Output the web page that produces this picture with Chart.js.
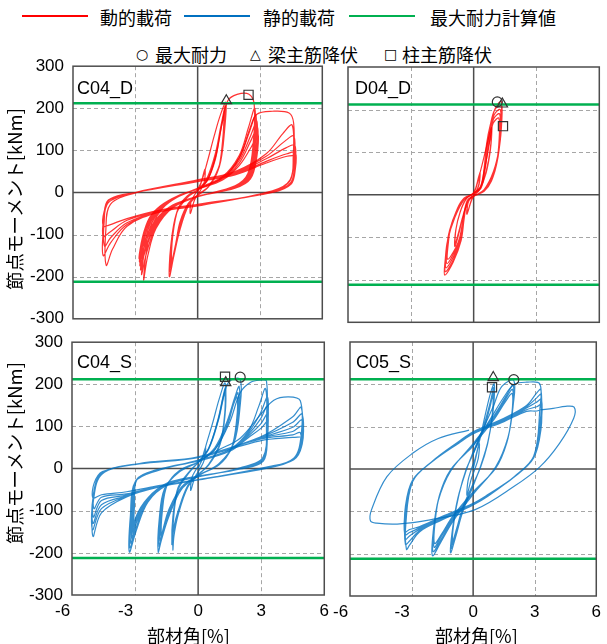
<!DOCTYPE html>
<html>
<head>
<meta charset="utf-8">
<script src="https://cdn.jsdelivr.net/npm/chart.js@4.4.0/dist/chart.umd.min.js"></script>
<style>
  body { margin: 0; background: #fff; }
  #page { position: relative; width: 607px; height: 644px; overflow: hidden; background: #fff; }
  canvas { position: absolute; }
  .jp { position: absolute; font-family: "Noto Sans CJK JP", sans-serif; font-size: 18px; line-height: 20px; color: #000; white-space: nowrap; }
  .sym { position: absolute; font-family: "DejaVu Sans", sans-serif; font-size: 14px; line-height: 20px; color: #000; }
  .key { position: absolute; height: 0; border-top: 2px solid; }
  .tag { position: absolute; font-family: "Liberation Sans", Arial, sans-serif; font-size: 18px; line-height: 18px; color: #000; }
  .ytitle { position: absolute; width: 220px; height: 22px; line-height: 22px; text-align: center; transform: rotate(-90deg); font-family: "Noto Sans CJK JP", sans-serif; font-size: 18.5px; color: #000; white-space: nowrap; }
</style>
</head>
<body>
<div id="page">
  <div class="key" style="left:22px;top:15px;width:66px;border-color:#ff0000"></div>
  <div class="jp" style="left:100px;top:7px">動的載荷</div>
  <div class="key" style="left:184px;top:15px;width:66px;border-color:#0070c0"></div>
  <div class="jp" style="left:263px;top:7px">静的載荷</div>
  <div class="key" style="left:349px;top:15px;width:66px;border-color:#00b050"></div>
  <div class="jp" style="left:430px;top:7px">最大耐力計算値</div>

  <div class="sym" style="left:136px;top:44px">○</div>
  <div class="jp" style="left:155px;top:44px">最大耐力</div>
  <div class="sym" style="left:250px;top:44px">△</div>
  <div class="jp" style="left:268px;top:44px">梁主筋降伏</div>
  <div class="sym" style="left:384px;top:44px">□</div>
  <div class="jp" style="left:402px;top:44px">柱主筋降伏</div>

  <canvas id="c1" width="330" height="291" style="left:0;top:47px"></canvas>
  <canvas id="c2" width="267" height="280" style="left:340px;top:50px"></canvas>
  <canvas id="c3" width="335" height="321" style="left:0;top:323px"></canvas>
  <canvas id="c4" width="280" height="314" style="left:327px;top:330px"></canvas>

  <div class="tag" style="left:77px;top:79px">C04_D</div>
  <div class="tag" style="left:355px;top:79px">D04_D</div>
  <div class="tag" style="left:77px;top:353px">C04_S</div>
  <div class="tag" style="left:356px;top:353px">C05_S</div>

  <div class="ytitle" style="left:-96px;top:188px">節点モーメント[kNm]</div>
  <div class="ytitle" style="left:-96px;top:442px">節点モーメント[kNm]</div>
  <div class="jp" style="left:147px;top:625px">部材角[%]</div>
  <div class="jp" style="left:435px;top:625px">部材角[%]</div>
</div>

<script>
// axes
const xTicks = [-6, -3, 0, 3, 6];
const yTicks = [-300, -200, -100, 0, 100, 200, 300];
const xDashed = [-3, 3];
const yDashed = [-200, -100, 100, 200];
const calcMax = [212, -212];

// C04_D : dynamic loading (x = drift %, y = moment kNm, pairs)
const c04dA = [
  0,0, 0.15,20, 0.35,55, 0.32,25, 0.1,2, -0.15,-18, -0.35,-50, -0.32,-22, -0.1,-2,
  0.2,28, 0.45,70, 0.8,135, 1.1,185, 1.36,214,
  1.3,150, 1.08,70, 0.55,16, 0,-6, -0.45,-32, -0.85,-88, -1.15,-152, -1.36,-200,
  -1.3,-130, -1.02,-50, -0.5,-12, 0,6, 0.45,34, 0.85,92, 1.12,158, 1.33,205,
  1.28,142, 1.05,62, 0.52,14, 0,-7, -0.45,-30, -0.85,-82, -1.12,-142, -1.33,-188,
  -1.27,-122, -1.0,-46, -0.5,-11, 0,6, 0.45,31, 0.85,86, 1.1,150, 1.3,195,
  1.25,135, 1.02,58, 0.5,13, 0,-7, -0.45,-28, -0.85,-78, -1.1,-135, -1.3,-178,
  -1.25,-116, -0.98,-43, -0.5,-10, 0,6, 0.45,29, 0.85,82, 1.08,142, 1.27,186,
  1.22,128, 1.0,55, 0.5,12, 0,-7, -0.45,-27, -0.85,-74, -1.08,-128, -1.28,-170,
  -1.22,-110, -0.96,-40, -0.5,-9, 0,5, 0.45,27, 0.85,78, 1.06,136, 1.25,178,
  1.2,122, 0.98,52, 0.5,12, 0,-6, -0.45,-26, -0.85,-70, -1.05,-120, -1.25,-162,
  -1.2,-104, -0.94,-38, -0.5,-8, 0,5
];
const c04dB = [
  0,5, 0.5,32, 0.9,92, 1.2,170, 1.45,218, 1.9,233, 2.45,234, 2.72,210,
  2.68,120, 2.42,45, 1.8,16, 0,-10, -1.2,-36, -2.0,-85, -2.4,-150, -2.6,-208,
  -2.45,-135, -2.15,-75, -1.7,-38, -1.0,-12, 0,10, 1.2,38, 2.0,88, 2.45,155, 2.75,200,
  2.72,115, 2.45,42, 1.8,14, 0,-10, -1.2,-34, -2.0,-80, -2.45,-142, -2.7,-195,
  -2.52,-128, -2.2,-72, -1.72,-36, -1.0,-11, 0,10, 1.2,36, 2.0,82, 2.5,145, 2.8,185,
  2.76,108, 2.48,40, 1.8,13, 0,-10, -1.2,-33, -2.0,-76, -2.5,-135, -2.75,-184,
  -2.56,-122, -2.24,-69, -1.74,-35, -1.0,-11, 0,9, 1.2,34, 2.0,76, 2.55,135, 2.85,170,
  2.8,100, 2.5,37, 1.8,12, 0,-9, -1.2,-32, -2.0,-72, -2.5,-128, -2.78,-174,
  -2.6,-116, -2.27,-66, -1.76,-34, -1.0,-10, 0,9, 1.2,32, 2.0,70, 2.55,122, 2.88,155,
  2.83,92, 2.52,34, 1.8,11, 0,-9, -1.2,-31, -2.0,-68, -2.52,-120, -2.8,-165,
  -2.63,-110, -2.3,-63, -1.78,-33, -1.0,-10, 0,8, 1.2,30, 2.0,64, 2.6,110, 2.9,140,
  2.85,85, 2.54,32, 1.8,10, 0,-9, -1.2,-30, -2.0,-64, -2.55,-114, -2.82,-157,
  -2.65,-105, -2.32,-60, -1.8,-32, -1.0,-9, 0,8
];
const c04dC = [
  0,8, 1.2,35, 2.0,82, 2.5,150, 2.85,186, 3.6,193, 4.4,189, 4.62,165,
  4.62,90, 4.45,30, 3.6,4, 0,-32, -1.8,-46, -3.4,-80, -4.1,-135, -4.4,-173,
  -4.42,-90, -4.2,-28, -3.0,-1, 0,30, 1.8,50, 3.3,92, 4.1,140, 4.55,160,
  4.6,85, 4.45,28, 3.6,3, 0,-31, -1.8,-45, -3.4,-76, -4.2,-120, -4.55,-150,
  -4.52,-80, -4.3,-24, -3.0,0, 0,29, 1.8,48, 3.3,86, 4.2,122, 4.63,134,
  4.65,75, 4.5,25, 3.6,2, 0,-30, -1.8,-44, -3.4,-72, -4.2,-108, -4.48,-128,
  -4.5,-70, -4.3,-20, -3.0,0, 0,28, 1.8,46, 3.3,80, 4.25,106, 4.68,112,
  4.68,65, 4.5,22, 3.6,1, 0,-29, -1.8,-43, -3.4,-66, -4.25,-95, -4.55,-105,
  -4.52,-60, -4.3,-18, -3.0,0, 0,27, 1.8,44, 3.3,74, 4.3,92, 4.7,95,
  4.7,55, 4.5,20, 3.6,0, 0,-28, -1.8,-42, -3.4,-62, -4.3,-78, -4.55,-80,
  -4.5,-45, -4.2,-15, -3.0,0, 0,26, 1.8,42, 3.3,70, 4.3,86, 4.7,88
];
const c04dBeam = [1.38, 218];
const c04dCol = [2.45, 232];

// D04_D : dynamic loading
const d04dA = [
  0,0, 0.1,15, 0.28,48, 0.25,25, 0.08,3, -0.1,-12, -0.3,-42, -0.27,-20, -0.1,-3,
  0.1,14, 0.3,52, 0.26,24, 0.08,2, -0.1,-13, -0.32,-46, -0.28,-20, -0.08,-2,
  0.12,18, 0.35,60, 0.6,110, 0.85,158,
  0.8,110, 0.6,55, 0.3,14, 0,-3, -0.25,-15, -0.5,-50, -0.7,-90, -0.9,-122,
  -0.86,-85, -0.65,-42, -0.35,-10, 0,3, 0.3,16, 0.5,55, 0.68,100, 0.86,150,
  0.8,105, 0.6,52, 0.3,13, 0,-3, -0.25,-14, -0.5,-48, -0.7,-85, -0.88,-115,
  -0.84,-80, -0.64,-40, -0.35,-9, 0,3
];
const d04dB = [
  0,3, 0.35,20, 0.5,62, 0.62,120, 0.8,165, 1.05,205, 1.32,219,
  1.34,170, 1.22,110, 0.95,55, 0.5,12, 0,-4, -0.3,-15, -0.45,-55, -0.6,-108, -0.98,-159, -1.38,-189,
  -1.35,-149, -1.25,-109, -0.9,-54, -0.45,-12, 0,3, 0.35,18, 0.5,60, 0.62,118, 0.78,160, 1.0,199, 1.3,210,
  1.32,160, 1.2,100, 0.93,45, 0.5,11, 0,-4, -0.3,-15, -0.46,-55, -0.62,-108, -0.95,-151, -1.35,-181,
  -1.32,-141, -1.22,-101, -0.87,-46, -0.45,-11, 0,3, 0.35,17, 0.51,58, 0.64,115, 0.8,156, 0.98,188, 1.27,200,
  1.29,150, 1.17,90, 0.9,40, 0.5,10, 0,-4, -0.3,-14, -0.47,-54, -0.63,-105, -0.92,-142, -1.32,-172,
  -1.29,-132, -1.19,-92, -0.84,-40, -0.45,-10, 0,3, 0.35,16, 0.52,56, 0.66,112, 0.82,150, 0.95,178, 1.24,190,
  1.26,140, 1.14,82, 0.88,36, 0.5,9, 0,-4, -0.3,-14, -0.48,-52, -0.64,-102, -0.88,-132, -1.28,-162,
  -1.25,-122, -1.15,-84, -0.8,-36, -0.45,-9, 0,3, 0.35,15, 0.53,54, 0.68,108, 0.84,145, 0.93,168, 1.2,180,
  1.22,132, 1.1,76, 0.85,32, 0.5,8, 0,-3, -0.3,-13, -0.48,-50, -0.65,-98, -0.85,-124, -1.24,-152,
  -1.21,-114, -1.1,-78, -0.78,-33, -0.45,-8, 0,2
];
const d04dPeak = [1.13, 218];
const d04dBeam = [1.37, 213];
const d04dCol = [1.4, 161];

// C04_S : static loading
const c04sA = [
  0,0, 0.15,18, 0.35,50, 0.3,22, 0.1,0, -0.15,-20, -0.35,-52, -0.3,-22, -0.1,-2, 0.15,16, 0.4,60,
  0.7,110, 1.0,165, 1.28,203,
  1.27,135, 1.05,62, 0.5,10, 0,-15, -0.5,-45, -0.95,-110, -1.15,-160, -1.2,-193,
  -1.17,-120, -0.95,-50, -0.4,-8, 0,15, 0.5,48, 0.95,118, 1.18,170, 1.3,192,
  1.28,128, 1.05,58, 0.5,9, 0,-15, -0.5,-43, -0.95,-105, -1.18,-150, -1.25,-180,
  -1.2,-114, -0.96,-47, -0.4,-7, 0,14, 0.5,46, 0.95,112, 1.17,160, 1.27,182,
  1.25,122, 1.03,55, 0.5,8, 0,-14, -0.5,-41, -0.95,-100, -1.16,-140, -1.22,-168,
  -1.18,-108, -0.95,-44, -0.4,-6, 0,14
];
const c04sB = [
  0,14, 0.5,48, 0.95,115, 1.25,180, 1.5,208, 2.0,212,
  1.98,140, 1.7,60, 1.0,12, 0,-18, -0.8,-50, -1.4,-115, -1.75,-170, -1.9,-198,
  -1.85,-120, -1.6,-48, -0.9,-8, 0,16, 0.8,50, 1.4,115, 1.75,170, 1.95,195,
  1.93,130, 1.66,56, 1.0,11, 0,-17, -0.8,-48, -1.4,-110, -1.72,-160, -1.85,-185,
  -1.8,-114, -1.56,-45, -0.9,-7, 0,15, 0.8,48, 1.4,110, 1.72,160, 1.9,180,
  1.88,122, 1.62,52, 1.0,10, 0,-16, -0.8,-46, -1.4,-104, -1.68,-150, -1.8,-172,
  -1.75,-108, -1.52,-42, -0.9,-6, 0,15, 0.8,46, 1.4,104, 1.68,152, 1.85,170,
  1.83,115, 1.58,48, 1.0,9, 0,-16, -0.8,-44, -1.4,-98, -1.65,-140, -1.75,-160,
  -1.7,-100, -1.48,-40, -0.9,-5, 0,15
];
const c04sC = [
  0,15, 0.8,45, 1.5,110, 2.0,180, 2.5,205, 3.0,210, 3.25,208,
  3.27,120, 3.1,28, 2.0,2, 0,-20, -1.5,-40, -2.4,-80, -2.95,-148, -3.27,-198,
  -3.22,-110, -3.0,-32, -2.0,-6, 0,20, 1.5,45, 2.4,90, 2.9,150, 3.2,190,
  3.25,110, 3.08,26, 2.0,1, 0,-20, -1.5,-39, -2.4,-78, -2.95,-140, -3.24,-188,
  -3.2,-105, -2.98,-30, -2.0,-5, 0,19, 1.5,44, 2.4,86, 2.95,130, 3.3,170,
  3.3,100, 3.1,24, 2.0,0, 0,-19, -1.5,-38, -2.4,-76, -2.97,-133, -3.2,-178,
  -3.17,-100, -2.96,-28, -2.0,-5, 0,19, 1.5,43, 2.4,82, 2.97,118, 3.3,150,
  3.3,92, 3.1,22, 2.0,0, 0,-19, -1.5,-37, -2.4,-74, -2.98,-126, -3.15,-168,
  -3.12,-96, -2.94,-27, -2.0,-4, 0,18, 1.5,42, 2.4,78, 2.98,106, 3.3,130,
  3.3,84, 3.1,20, 2.0,-1, 0,-18, -1.5,-36, -2.4,-72, -2.98,-120, -3.1,-158,
  -3.08,-92, -2.92,-26, -2.0,-4, 0,18, 1.5,41, 2.4,74, 3.0,96, 3.3,112,
  3.3,76, 3.1,18, 2.0,-1, 0,-18, -1.5,-35, -2.4,-70, -2.96,-115, -3.05,-150,
  -3.03,-90, -2.9,-25, -2.0,-3, 0,18
];
const c04sD = [
  0,18, 1.0,45, 2.0,72, 3.0,130, 3.6,162, 4.3,170, 4.86,161,
  4.9,80, 4.55,25, 3.3,4, 0,-27, -1.8,-43, -3.4,-67, -4.6,-105, -5.0,-161,
  -4.97,-72, -4.55,-12, -2.8,12, 0,28, 2.95,75, 4.5,123, 4.9,145,
  4.92,72, 4.55,24, 3.3,3, 0,-27, -1.8,-43, -3.4,-66, -4.6,-95, -5.02,-145,
  -4.99,-65, -4.55,-11, -2.8,12, 0,28, 2.95,74, 4.5,110, 4.94,129,
  4.95,65, 4.55,23, 3.3,2, 0,-27, -1.8,-42, -3.4,-65, -4.6,-86, -5.0,-130,
  -4.97,-58, -4.55,-10, -2.8,12, 0,27, 2.95,73, 4.5,98, 4.94,115,
  4.95,58, 4.55,22, 3.3,2, 0,-26, -1.8,-42, -3.4,-63, -4.6,-76, -4.98,-115,
  -4.95,-52, -4.55,-9, -2.8,12, 0,27, 2.95,72, 4.5,88, 4.92,100,
  4.92,52, 4.55,21, 3.3,1, 0,-26, -1.8,-41, -3.4,-60, -4.6,-68, -4.95,-95,
  -4.93,-45, -4.55,-8, -2.8,12, 0,27, 2.95,70, 4.5,80, 4.86,85,
  4.87,45, 4.5,20, 3.3,1, 0,-26, -1.8,-40, -3.4,-55, -4.6,-62, -5.0,-70,
  -4.95,-35, -4.55,-7, -2.8,11, 0,26, 2.95,66, 4.5,74, 4.85,75
];
const c04sPeak = [2.0, 217];
const c04sBeam = [1.31, 204];
const c04sCol = [1.28, 218];

// C05_S : static loading
const c05sA = [
  0,0, 0.1,20, 0.3,60, 0.25,25, 0.05,-5, -0.1,-25, -0.3,-62, -0.25,-28, -0.05,5, 0.1,25, 0.35,75,
  0.6,130, 0.85,180, 1.03,201,
  0.98,140, 0.75,70, 0.35,5, 0,-40, -0.5,-100, -0.85,-160, -1.1,-198,
  -1.0,-140, -0.75,-70, -0.35,-5, 0,40, 0.5,100, 0.85,160, 1.0,192,
  0.96,134, 0.73,66, 0.35,4, 0,-38, -0.5,-96, -0.84,-152, -1.05,-188,
  -0.96,-132, -0.72,-66, -0.35,-4, 0,38, 0.5,96, 0.84,152, 0.98,182,
  0.94,128, 0.71,62, 0.35,3, 0,-36, -0.5,-92, -0.82,-146, -1.02,-178,
  -0.94,-126, -0.7,-62, -0.35,-3, 0,36, 0.5,92, 0.82,146, 0.96,175,
  0.92,122, 0.7,58, 0.35,2, 0,-35, -0.5,-90, -0.8,-140, -1.0,-170,
  -0.92,-120, -0.68,-58, -0.35,-2, 0,35
];
const c05sB = [
  0,35, 0.5,95, 1.0,150, 1.4,195, 1.98,209,
  1.95,150, 1.7,75, 1.1,5, 0,-60, -1.0,-125, -1.6,-175, -1.98,-205,
  -1.95,-150, -1.7,-75, -1.1,-5, 0,60, 1.0,125, 1.6,172, 1.95,198,
  1.92,142, 1.68,70, 1.1,4, 0,-58, -1.0,-120, -1.58,-168, -1.95,-195,
  -1.92,-142, -1.68,-70, -1.1,-4, 0,58, 1.0,120, 1.58,165, 1.92,188,
  1.9,135, 1.66,66, 1.1,3, 0,-56, -1.0,-116, -1.56,-160, -1.9,-185,
  -1.88,-135, -1.66,-66, -1.1,-3, 0,56, 1.0,116, 1.56,158, 1.9,178,
  1.88,128, 1.64,62, 1.1,2, 0,-54, -1.0,-112, -1.54,-154, -1.88,-176,
  -1.86,-128, -1.64,-62, -1.1,-2, 0,54
];
const c05sC = [
  0,54, 0.8,115, 1.5,170, 2.0,200, 2.6,205, 3.25,201,
  3.25,141, 2.95,30, 2.0,-18, 0.7,-65, 0,-85, -1.5,-120, -2.6,-148, -3.1,-180, -3.25,-190,
  -3.28,-130, -2.95,-30, -2.0,18, -0.7,65, 0,88, 1.5,120, 2.6,150, 3.1,180, 3.3,188,
  3.3,128, 2.95,29, 2.0,-18, 0.7,-64, 0,-84, -1.5,-118, -2.6,-145, -3.1,-170, -3.3,-178,
  -3.3,-118, -2.95,-29, -2.0,18, -0.7,64, 0,86, 1.5,118, 2.6,147, 3.1,168, 3.3,176,
  3.3,116, 2.95,28, 2.0,-19, 0.7,-63, 0,-83, -1.5,-116, -2.6,-142, -3.1,-158, -3.3,-166,
  -3.3,-106, -2.95,-28, -2.0,18, -0.7,63, 0,85, 1.5,116, 2.6,144, 3.1,158, 3.33,165,
  3.3,105, 2.95,27, 2.0,-19, 0.7,-62, 0,-82, -1.5,-114, -2.6,-139, -3.1,-150, -3.33,-156,
  -3.3,-96, -2.95,-27, -2.0,17, -0.7,62, 0,84, 1.5,114, 2.6,140, 3.1,147, 3.3,152,
  3.3,92, 2.95,26, 2.0,-19, 0.7,-61, 0,-81, -1.5,-112, -2.6,-136, -3.1,-143, -3.3,-148,
  -3.3,-88, -2.95,-26, -2.0,17, -0.7,61, 0,83, 1.5,112, 2.6,136, 3.1,137, 3.3,140
];
const c05sD = [
  3.3,140, 3.9,143, 4.5,148, 4.92,146,
  4.9,120, 4.2,60, 3.25,5, 2.0,-41, 0.1,-96, -2.1,-120, -3.7,-130, -4.7,-128, -5.0,-123,
  -4.95,-96, -4.2,-18, -2.95,37, -1.7,72, -0.2,92
];
const c05sPeak = [1.98, 211];
const c05sBeam = [0.98, 216];
const c05sCol = [0.92, 193];

const RED = 'rgba(255,0,0,0.8)';
const BLUE = 'rgba(0,112,192,0.8)';
const GREEN = '#00b050';
const MARK = '#333333';

const toXY = flat => {
  const pts = [];
  for (let i = 0; i < flat.length; i += 2) pts.push({ x: flat[i], y: flat[i + 1] });
  return pts;
};

// dashed grid, zero lines and the frame, placed with the chart's own scales
const frame = {
  id: 'frame',
  beforeDatasetsDraw(chart) {
    const { ctx, chartArea: a, scales: { x, y } } = chart;
    ctx.save();
    ctx.lineWidth = 1;
    ctx.strokeStyle = '#a6a6a6';
    ctx.setLineDash([4, 3]);
    ctx.beginPath();
    for (const v of yDashed) {
      const py = Math.round(y.getPixelForValue(v)) + 0.5;
      ctx.moveTo(a.left, py); ctx.lineTo(a.right, py);
    }
    for (const v of xDashed) {
      const px = Math.round(x.getPixelForValue(v)) + 0.5;
      ctx.moveTo(px, a.top); ctx.lineTo(px, a.bottom);
    }
    ctx.stroke();
    ctx.setLineDash([]);
    ctx.strokeStyle = '#4d4d4d';
    ctx.lineWidth = 1.5;
    ctx.beginPath();
    const y0 = y.getPixelForValue(0), x0 = x.getPixelForValue(0);
    ctx.moveTo(a.left, y0); ctx.lineTo(a.right, y0);
    ctx.moveTo(x0, a.top); ctx.lineTo(x0, a.bottom);
    ctx.stroke();
    ctx.restore();
  },
  afterDatasetsDraw(chart) {
    const { ctx, chartArea: a } = chart;
    ctx.save();
    ctx.strokeStyle = '#4d4d4d';
    ctx.lineWidth = 1.5;
    ctx.strokeRect(a.left, a.top, a.right - a.left, a.bottom - a.top);
    ctx.restore();
  }
};

Chart.defaults.font.family = "'Liberation Sans', Arial, sans-serif";
Chart.defaults.font.size = 17;
Chart.defaults.color = '#000';

// tick labels add their own room above/below the plot, so the canvases are sized around that
const panels = [
  { id: 'c1', color: RED, loops: [c04dA, c04dB, c04dC], peak: null, beam: c04dBeam, col: c04dCol,
    yW: 73, xH: 11, padTop: 19, padRight: 7, yLabels: true, xLabels: false },
  { id: 'c2', color: RED, loops: [d04dA, d04dB], peak: d04dPeak, beam: d04dBeam, col: d04dCol,
    yW: 8, xH: 5, padTop: 17, padRight: 7, yLabels: false, xLabels: false },
  { id: 'c3', color: BLUE, loops: [c04sA, c04sB, c04sC, c04sD], peak: c04sPeak, beam: c04sBeam, col: c04sCol,
    yW: 72, xH: 49, padTop: 19, padRight: 6, yLabels: true, xLabels: true },
  { id: 'c4', color: BLUE, loops: [c05sA, c05sB, c05sC, c05sD], peak: c05sPeak, beam: c05sBeam, col: c05sCol,
    yW: 19, xH: 48, padTop: 12, padRight: 6, yLabels: false, xLabels: true }
];

for (const p of panels) {
  const marker = (pt, style, r) => ({
    data: pt ? [{ x: pt[0], y: pt[1] }] : [],
    pointStyle: style, pointRadius: r, borderColor: MARK, borderWidth: 1.2,
    backgroundColor: 'rgba(0,0,0,0)', showLine: false
  });
  const hline = v => ({
    data: [{ x: -6, y: v }, { x: 6, y: v }], showLine: true,
    borderColor: GREEN, borderWidth: 2.5, pointRadius: 0
  });
  const datasets = [
    marker(p.peak, 'circle', 5),
    marker(p.beam, 'triangle', 6),
    marker(p.col, 'rect', 6.5),
    hline(calcMax[0]),
    hline(calcMax[1]),
    ...p.loops.map(l => ({
      data: toXY(l), showLine: true, borderColor: p.color, borderWidth: 1.2,
      pointRadius: 0, tension: 0.35
    }))
  ];

  new Chart(document.getElementById(p.id), {
    type: 'scatter',
    data: { datasets },
    options: {
      responsive: false,
      animation: false,
      events: [],
      layout: { padding: { top: p.padTop, right: p.padRight, left: 0, bottom: 0 } },
      plugins: { legend: { display: false }, tooltip: { enabled: false } },
      scales: {
        x: {
          min: -6, max: 6,
          afterBuildTicks: s => { s.ticks = xTicks.map(v => ({ value: v })); },
          grid: { display: false, drawTicks: false }, border: { display: false },
          ticks: {
            display: p.xLabels, padding: 6, maxRotation: 0, autoSkip: false,
            callback: v => (v < 0 ? v + '    ' : String(v))
          },
          afterFit: s => { s.height = p.xH; }
        },
        y: {
          min: -300, max: 300,
          afterBuildTicks: s => { s.ticks = yTicks.map(v => ({ value: v })); },
          grid: { display: false, drawTicks: false }, border: { display: false },
          ticks: { display: p.yLabels, padding: 9 },
          afterFit: s => { s.width = p.yW; }
        }
      }
    },
    plugins: [frame]
  });
}
</script>
</body>
</html>
